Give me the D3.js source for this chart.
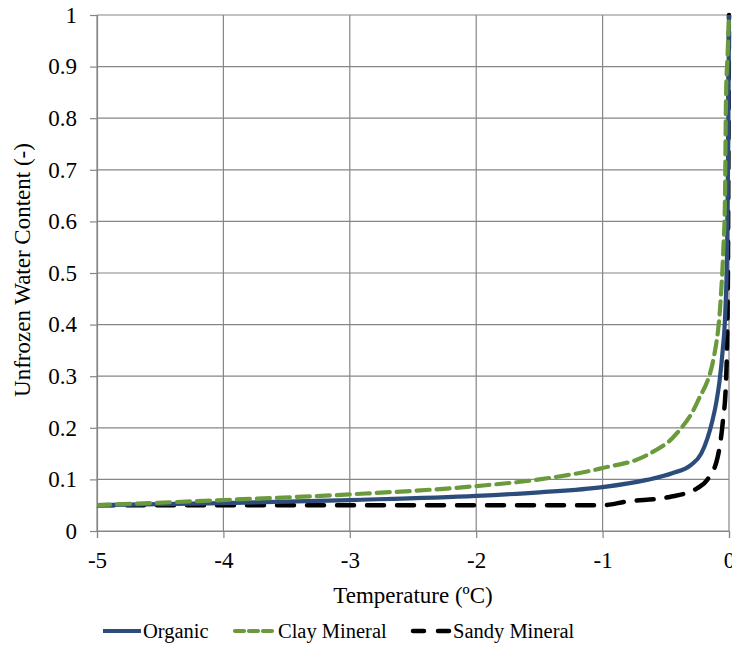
<!DOCTYPE html>
<html>
<head>
<meta charset="utf-8">
<script src="https://cdn.jsdelivr.net/npm/d3@7"></script>
<style>
  html, body { margin: 0; padding: 0; background: #fff; }
</style>
</head>
<body>
<svg id="chart" width="732" height="647"></svg>
<script>
// Unfrozen water content vs. temperature for three soil types
const organicT   = [-5, -4, -3, -2, -1.5, -1, -0.65, -0.45, -0.3, -0.22, -0.17, -0.13, -0.1, -0.075, -0.05, -0.03, -0.015, -0.006, 0];
const organicW   = [0.05, 0.054, 0.06, 0.068, 0.075, 0.085, 0.099, 0.112, 0.128, 0.15, 0.18, 0.215, 0.25, 0.29, 0.35, 0.42, 0.55, 0.75, 1.0];

const clayT      = [-5, -4, -3, -2, -1.5, -1, -0.65, -0.41, -0.25, -0.11, -0.066, -0.045, -0.032, -0.024, -0.01, 0];
const clayW      = [0.05, 0.06, 0.071, 0.087, 0.1, 0.122, 0.147, 0.19, 0.25, 0.35, 0.448, 0.545, 0.64, 0.835, 0.93, 1.0];

const sandyT     = [-5, -4, -3, -2, -1, -0.81, -0.47, -0.25, -0.17, -0.09, -0.05, -0.024, -0.01, -0.005, 0];
const sandyW     = [0.05, 0.05, 0.05, 0.05, 0.05, 0.057, 0.066, 0.083, 0.1, 0.143, 0.209, 0.287, 0.45, 0.7, 1.0];

const xTicks = [-5, -4, -3, -2, -1, 0];
const yTicks = [0, 0.1, 0.2, 0.3, 0.4, 0.5, 0.6, 0.7, 0.8, 0.9, 1];

const seriesNames = ["Organic", "Clay Mineral", "Sandy Mineral"];

const FONT = '"Liberation Serif", "Times New Roman", Times, serif';

const svg = d3.select("#chart").style("font-family", FONT);
const margin = { left: 97, right: 3, top: 15, bottom: 116 };
const W = 732, H = 647;

const x = d3.scaleLinear().domain([-5, 0]).range([margin.left, W - margin.right]);
const y = d3.scaleLinear().domain([0, 1]).range([H - margin.bottom, margin.top]);

const gridColor = "#868686";

// gridlines
svg.append("g").selectAll("line").data(yTicks).join("line")
  .attr("x1", x(-5)).attr("x2", x(0))
  .attr("y1", d => y(d)).attr("y2", d => y(d))
  .attr("stroke", gridColor).attr("stroke-width", 1.2);
svg.append("g").selectAll("line").data(xTicks).join("line")
  .attr("x1", d => x(d)).attr("x2", d => x(d))
  .attr("y1", y(0)).attr("y2", y(1))
  .attr("stroke", gridColor).attr("stroke-width", 1.2);

// axes
const yAxis = svg.append("g")
  .attr("transform", `translate(${x(-5)},0)`)
  .call(d3.axisLeft(y).tickValues(yTicks).tickSize(7).tickPadding(13)
        .tickFormat(d => d3.format("~g")(d)));
const xAxis = svg.append("g")
  .attr("transform", `translate(0,${y(0)})`)
  .call(d3.axisBottom(x).tickValues(xTicks).tickSize(7).tickPadding(14)
        .tickFormat(d => String(d)));

[yAxis, xAxis].forEach(g => {
  g.attr("font-family", null).attr("font-size", null);
  g.select(".domain").attr("stroke", gridColor).attr("stroke-width", 1.2);
  g.selectAll(".tick line").attr("stroke", gridColor).attr("stroke-width", 1.2);
  g.selectAll(".tick text").attr("fill", "#000")
    .style("font-family", FONT).style("font-size", "23px");
});

// axis titles
svg.append("text")
  .attr("x", (x(-5) + x(0)) / 2).attr("y", 603)
  .attr("text-anchor", "middle")
  .style("font-family", FONT).style("font-size", "23px")
  .text("Temperature (ºC)");
svg.append("text")
  .attr("transform", `translate(30,${270}) rotate(-90)`)
  .attr("text-anchor", "middle")
  .style("font-family", FONT).style("font-size", "23px")
  .text("Unfrozen Water Content (-)");

// curves
const series = [
  { name: seriesNames[0], T: organicT, W: organicW, color: "#2C4D7C", width: 4.2, dash: null },
  { name: seriesNames[1], T: clayT,    W: clayW,    color: "#6A9A3C", width: 4.2, dash: "13,7" },
  { name: seriesNames[2], T: sandyT,   W: sandyW,   color: "#000000", width: 4.5, dash: "17,13" }
];

const line = d3.line()
  .x(d => x(d[0])).y(d => y(d[1]))
  .curve(d3.curveMonotoneX);

svg.append("clipPath").attr("id", "plotclip")
  .append("rect").attr("x", x(-5)).attr("y", y(1) - 3)
  .attr("width", x(0) - x(-5) + 3).attr("height", y(0) - y(1) + 6);

// sandy underneath, then organic, then clay on top
const drawOrder = [2, 0, 1];
drawOrder.forEach(i => {
  const s = series[i];
  svg.append("path")
    .datum(s.T.map((t, k) => [t, s.W[k]]))
    .attr("d", line)
    .attr("fill", "none")
    .attr("stroke", s.color)
    .attr("stroke-width", s.width)
    .attr("stroke-dasharray", s.dash)
    .attr("stroke-linecap", s.dash ? "round" : "butt")
    .attr("clip-path", "url(#plotclip)");
});

// legend
const legendItems = [
  { x1: 103, x2: 141, tx: 143 },
  { x1: 235, x2: 274, tx: 278 },
  { x1: 413, x2: 451, tx: 453 }
];
const lg = svg.append("g");
series.forEach((s, i) => {
  const it = legendItems[i];
  lg.append("line")
    .attr("x1", it.x1).attr("x2", it.x2).attr("y1", 631).attr("y2", 631)
    .attr("stroke", s.color).attr("stroke-width", s.width)
    .attr("stroke-dasharray", s.dash ? (i === 1 ? "9,5" : "11,14") : null)
    .attr("stroke-linecap", s.dash ? "round" : "butt");
  lg.append("text")
    .attr("x", it.tx).attr("y", 638)
    .style("font-family", FONT).style("font-size", "20.5px")
    .text(s.name);
});
</script>
</body>
</html>
